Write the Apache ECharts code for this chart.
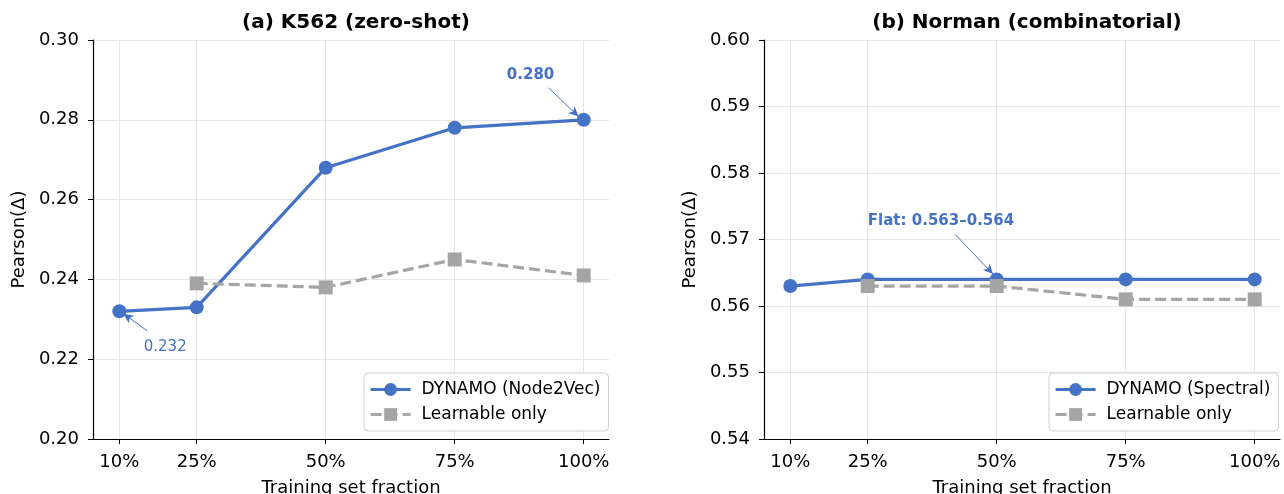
<!DOCTYPE html>
<html><head><meta charset="utf-8">
<script src="https://cdn.jsdelivr.net/npm/echarts@6/dist/echarts.min.js"></script>
<style>html,body{margin:0;padding:0;background:#fff}#c{width:1284px;height:494px}</style>
</head><body><div id="c"></div>
<script>
// ---- data ----
const fractions = [10, 25, 50, 75, 100];
const fractionsLearnable = [25, 50, 75, 100];
const k562Dynamo = [0.232, 0.233, 0.268, 0.278, 0.280];
const k562Learnable = [0.239, 0.238, 0.245, 0.241];
const normanDynamo = [0.563, 0.564, 0.564, 0.564, 0.564];
const normanLearnable = [0.563, 0.563, 0.561, 0.561];
const titles = ['(a) K562 (zero-shot)', '(b) Norman (combinatorial)'];
const dynamoNames = ['DYNAMO (Node2Vec)', 'DYNAMO (Spectral)'];
const learnName = 'Learnable only';

const BLUE = '#4472C4', GRAY = '#A5A5A5';
const FONT = 'DejaVu Sans';
const pairs = (xs, ys) => xs.map((x, i) => [x, ys[i]]);

function xAxis(gi) {
  return {
    type: 'value', gridIndex: gi, min: 4.9, max: 104.9,
    name: 'Training set fraction', nameLocation: 'middle', nameGap: 40,
    nameTextStyle: {fontFamily: FONT, fontSize: 18, color: '#000'},
    axisLine: {show: true, lineStyle: {color: '#000', width: 1.2}},
    axisTick: {show: true, length: 5, inside: false, customValues: fractions, lineStyle: {color: '#000'}},
    axisLabel: {customValues: fractions, formatter: v => v + '%', fontFamily: FONT, fontSize: 18, color: '#000', margin: 14},
    splitLine: {show: true, lineStyle: {color: '#e6e6e6', width: 1}}
  };
}
function yAxis(gi, min, max, interval) {
  return {
    type: 'value', gridIndex: gi, min: min, max: max, interval: interval,
    name: 'Pearson(Δ)', nameLocation: 'middle', nameGap: 65, nameRotate: 90,
    nameTextStyle: {fontFamily: FONT, fontSize: 18, color: '#000'},
    axisLine: {show: true, lineStyle: {color: '#000', width: 1.2}},
    axisTick: {show: true, length: 5, lineStyle: {color: '#000'}},
    axisLabel: {formatter: v => v.toFixed(2), fontFamily: FONT, fontSize: 18, color: '#000', margin: 14},
    splitLine: {show: true, lineStyle: {color: '#e6e6e6', width: 1}}
  };
}
function textPoint(coord, text, bold, size) {
  return {coord: coord, symbol: 'circle', symbolSize: 1, itemStyle: {color: 'rgba(0,0,0,0)'},
    label: {show: true, position: 'inside', formatter: text, color: BLUE, fontFamily: FONT,
      fontSize: size, fontWeight: bold ? 'bold' : 'normal'}};
}
function arrow(from, to) {
  return [{coord: from, symbol: 'none'}, {coord: to, symbol: 'arrow', symbolSize: [7, 10]}];
}
function dynSeries(gi, name, data, notes, arrows) {
  return {
    type: 'line', name: name, xAxisIndex: gi, yAxisIndex: gi, data: data,
    symbol: 'circle', symbolSize: 14, lineStyle: {color: BLUE, width: 3.2}, itemStyle: {color: BLUE},
    z: 3,
    markPoint: {silent: true, data: notes, animation: false},
    markLine: {silent: true, animation: false, symbol: ['none', 'arrow'],
      lineStyle: {color: BLUE, width: 1, type: 'solid'}, label: {show: false}, data: arrows}
  };
}
function learnSeries(gi, data) {
  return {
    type: 'line', name: learnName, xAxisIndex: gi, yAxisIndex: gi, data: data,
    symbol: 'rect', symbolSize: 14, lineStyle: {color: GRAY, width: 3.2, type: [11, 5]}, itemStyle: {color: GRAY},
    z: 4
  };
}
function legend(left, names) {
  return {
    left: left, top: 373, orient: 'vertical', data: names,
    backgroundColor: '#fff', borderColor: '#d0d0d0', borderWidth: 1, borderRadius: 4,
    padding: [8, 8, 8, 5], itemGap: 8, itemWidth: 40, itemHeight: 16,
    lineStyle: {width: 3.2},
    textStyle: {fontFamily: FONT, fontSize: 17, color: '#000', padding: [0, 0, 0, 6]}
  };
}

const chart = echarts.init(document.getElementById('c'), null, {renderer: 'canvas'});
chart.setOption({
  animation: false,
  backgroundColor: '#fff',
  title: [
    {text: titles[0], left: 351, top: 8, textAlign: 'center', textStyle: {fontFamily: FONT, fontSize: 20, fontWeight: 'bold', color: '#000'}},
    {text: titles[1], left: 1022, top: 8, textAlign: 'center', textStyle: {fontFamily: FONT, fontSize: 20, fontWeight: 'bold', color: '#000'}}
  ],
  grid: [
    {left: 93, top: 40, width: 516, height: 399, containLabel: false, outerBoundsMode: 'none'},
    {left: 764, top: 40, width: 516, height: 399, containLabel: false, outerBoundsMode: 'none'}
  ],
  xAxis: [xAxis(0), xAxis(1)],
  yAxis: [yAxis(0, 0.20, 0.30, 0.02), yAxis(1, 0.54, 0.60, 0.01)],
  legend: [legend(364, [dynamoNames[0], learnName]), legend(1049, [dynamoNames[1], learnName])],
  series: [
    dynSeries(0, dynamoNames[0], pairs(fractions, k562Dynamo),
      [textPoint([18.9, 0.2231], '0.232', false, 15), textPoint([89.7, 0.2912], '0.280', true, 15)],
      [arrow([15.4, 0.2271], [10.8, 0.2314]), arrow([93.2, 0.2880], [99.0, 0.2808])]),
    learnSeries(0, pairs(fractionsLearnable, k562Learnable)),
    dynSeries(1, dynamoNames[1], pairs(fractions, normanDynamo),
      [textPoint([39.2, 0.5728], 'Flat: 0.563–0.564', true, 15)],
      [arrow([41.9, 0.5708], [49.3, 0.5648])]),
    learnSeries(1, pairs(fractionsLearnable, normanLearnable))
  ]
});
</script></body></html>
